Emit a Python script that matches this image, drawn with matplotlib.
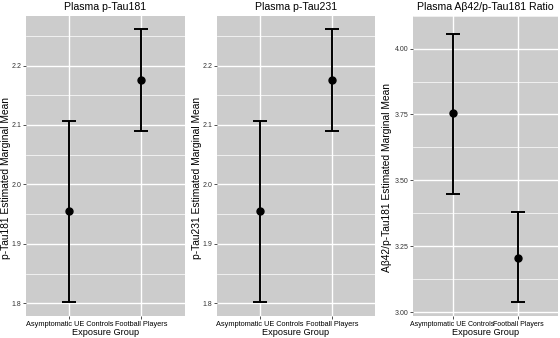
import numpy as np
import matplotlib
matplotlib.use("Agg")
import matplotlib.pyplot as plt

plt.rcParams['font.family'] = ['Liberation Sans', 'DejaVu Sans']

# categories
groups = ['Asymptomatic UE Controls', 'Football Players']

# estimated marginal means with lower / upper CI, one list per panel
titles = ['Plasma p-Tau181', 'Plasma p-Tau231', 'Plasma A\u03b242/p-Tau181 Ratio']
ylabels = ['p-Tau181 Estimated Marginal Mean',
           'p-Tau231 Estimated Marginal Mean',
           'A\u03b242/p-Tau181 Estimated Marginal Mean']

tau181_mean = [1.955, 2.175]
tau181_low = [1.802, 2.090]
tau181_high = [2.107, 2.261]

tau231_mean = [1.955, 2.175]
tau231_low = [1.802, 2.090]
tau231_high = [2.107, 2.261]

ratio_mean = [3.754, 3.207]
ratio_low = [3.450, 3.037]
ratio_high = [4.055, 3.380]

yticks = [[1.8, 1.9, 2.0, 2.1, 2.2],
          [1.8, 1.9, 2.0, 2.1, 2.2],
          [3.00, 3.25, 3.50, 3.75, 4.00]]
ytick_labels = [['1.8', '1.9', '2.0', '2.1', '2.2'],
                ['1.8', '1.9', '2.0', '2.1', '2.2'],
                ['3.00', '3.25', '3.50', '3.75', '4.00']]

means = [tau181_mean, tau231_mean, ratio_mean]
lows = [tau181_low, tau231_low, ratio_low]
highs = [tau181_high, tau231_high, ratio_high]

# axes boxes in pixels (left, right), figure is 560 x 338
W, H = 560.0, 338.0
boxes = [(26, 184.7), (217.3, 374.7), (413.3, 557.7)]
top, bottom = 15.7, 315.7
# right edge (descent side) of the rotated y labels, in pixels
ylab_x = [11.5, 201.5, 392.5]
ylab_y = 178.0
xtick_size = [5.3, 5.3, 5.0]

fig = plt.figure(figsize=(5.6, 3.38), dpi=100)

for i in range(3):
    l, r = boxes[i]
    ax = fig.add_axes([l / W, 1 - bottom / H, (r - l) / W, (bottom - top) / H])
    ax.set_facecolor('#cccccc')
    for s in ax.spines.values():
        s.set_visible(False)

    x = np.arange(1, 3)
    m = np.array(means[i])
    lo = np.array(lows[i])
    hi = np.array(highs[i])
    ax.errorbar(x, m, yerr=[m - lo, hi - m], fmt='o', color='black',
                ms=5, elinewidth=1.4, capsize=5.2, capthick=1.4, zorder=3)

    # ggplot-style expansion
    rng = hi.max() - lo.min()
    ax.set_ylim(lo.min() - 0.05 * rng, hi.max() + 0.05 * rng)
    ax.set_xlim(0.4, 2.6)

    yt = yticks[i]
    ax.set_yticks(yt)
    ax.set_yticklabels(ytick_labels[i])
    minor = [(a + b) / 2 for a, b in zip(yt[:-1], yt[1:])]
    minor = minor + [yt[-1] + (yt[1] - yt[0]) / 2]
    ax.set_yticks(minor, minor=True)
    ax.set_xticks(x)
    ax.set_xticklabels(groups)

    ax.grid(True, which='major', color='white', lw=1.0)
    ax.grid(True, which='minor', axis='y', color='white', lw=0.5)
    ax.set_axisbelow(True)

    ax.tick_params(axis='both', which='major', length=2.5, width=0.6,
                   color='#333333', labelsize=5, pad=1.0, labelcolor='#333333')
    ax.tick_params(axis='y', which='minor', length=0)
    ax.tick_params(axis='x', labelsize=xtick_size[i], labelcolor='black', pad=1.5)

    ax.set_title(titles[i], fontsize=7.6, pad=4)
    ax.set_xlabel('Exposure Group', fontsize=6.6, labelpad=0)
    ax.set_ylabel(ylabels[i], fontsize=7.4)
    ax.yaxis.set_label_coords(ylab_x[i] / W, 1 - ylab_y / H, transform=fig.transFigure)

fig.savefig('out.png', dpi=100)
